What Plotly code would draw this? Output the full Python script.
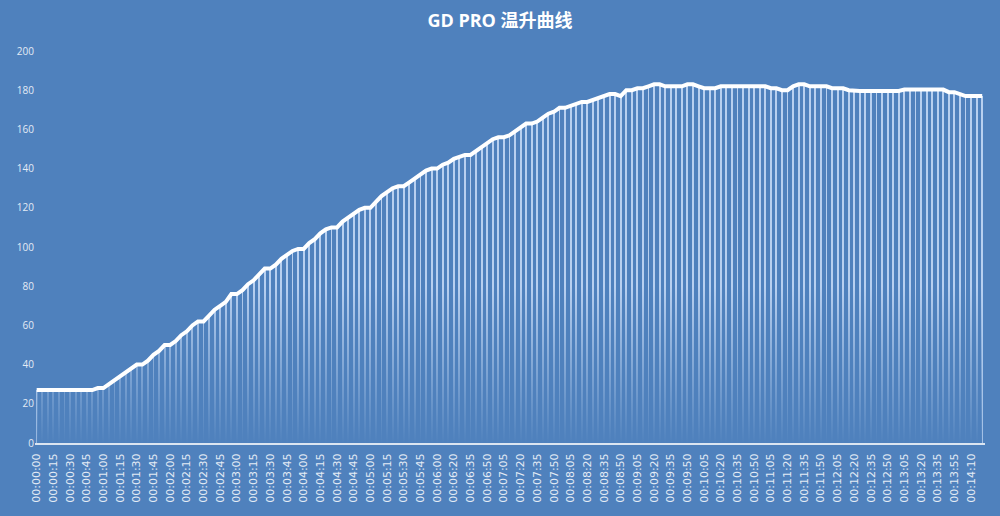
import plotly.graph_objects as go

# tempos de leitura (segundos); leituras a cada 5 s com duas falhas no registo
segundos = (list(range(0, 365, 5)) + [365, 370]
            + list(range(380, 820, 5)) + [820, 825]
            + list(range(835, 865, 5)))
categorias = [f"{s // 3600:02d}:{s % 3600 // 60:02d}:{s % 60:02d}" for s in segundos]

temperatura = [
    27, 27, 27, 27, 27, 27, 27, 27, 27, 27, 27, 28, 28, 30, 32, 34, 36, 38, 40, 40,
    42, 45, 47, 50, 50, 52, 55, 57, 60, 62, 62, 65, 68, 70, 72, 76, 76, 78, 81, 83,
    86, 89, 89, 91, 94, 96, 98, 99, 99, 102, 104, 107, 109, 110, 110, 113, 115, 117, 119, 120,
    120, 123, 126, 128, 130, 131, 131, 133, 135, 137, 139, 140, 140, 142, 143, 145, 146, 147, 147, 149,
    151, 153, 155, 156, 156, 157, 159, 161, 163, 163, 164, 166, 168, 169, 171, 171, 172, 173, 174, 174,
    175, 176, 177, 178, 178, 177, 180, 180, 181, 181, 182, 183, 183, 182, 182, 182, 182, 183, 183, 182,
    181, 181, 181, 182, 182, 182, 182, 182, 182, 182, 182, 182, 181, 181, 180, 180, 182, 183, 183, 182,
    182, 182, 182, 181, 181, 181, 180, 179.6, 179.6, 179.6, 179.6, 179.6, 179.6, 179.6, 179.6, 179.6, 180.3, 180.3,
    180.3, 180.3, 180.3, 180.3, 180.3, 180.3, 179, 179, 178, 177, 177, 177, 177,
]

rotulos_x = categorias[::3]
ticks_y = [0, 20, 40, 60, 80, 100, 120, 140, 160, 180, 200]

fundo = '#4f81bd'
texto = '#e3ebf5'

fig = go.Figure()

# linhas verticais de cada ponto até ao eixo
fig.add_trace(go.Bar(
    x=categorias, y=temperatura, width=0.34,
    marker=dict(color='rgba(210,228,252,0.8)', line=dict(width=0)),
    hoverinfo='skip', showlegend=False,
))

# esbatimento das linhas verticais junto ao eixo
fig.add_trace(go.Scatter(
    x=[categorias[0], categorias[-1]], y=[80, 80],
    mode='lines', line=dict(width=0), fill='tozeroy',
    fillgradient=dict(type='vertical', start=0, stop=80,
                      colorscale=[[0, 'rgba(79,129,189,1)'], [1, 'rgba(79,129,189,0)']]),
    hoverinfo='skip', showlegend=False,
))

# curva de temperatura
fig.add_trace(go.Scatter(
    x=categorias, y=temperatura, mode='lines',
    line=dict(color='white', width=4),
    name='温度', showlegend=False,
))

fig.update_layout(
    width=1000, height=516,
    paper_bgcolor=fundo, plot_bgcolor=fundo,
    margin=dict(l=35, r=15, t=51, b=73),
    title=dict(text='<b>GD PRO 温升曲线</b>', x=0.5, xanchor='center', y=0.96, yanchor='middle',
               font=dict(family='Open Sans, Noto Sans CJK SC', size=18, color='white')),
    bargap=0,
)

fig.update_xaxes(
    type='category', range=[-0.3, 170.5],
    tickmode='array', tickvals=rotulos_x, ticktext=rotulos_x,
    tickangle=-90, tickfont=dict(family='DejaVu Sans', size=11, color=texto),
    ticklabelstandoff=4,
    showline=True, linecolor='#dbe5f1', linewidth=2,
    showgrid=False, zeroline=False, ticks='', automargin=False,
)
fig.update_yaxes(
    range=[0, 200], tickmode='array', tickvals=ticks_y,
    tickfont=dict(family='Open Sans', size=10, color=texto),
    showgrid=False, zeroline=False, showline=False, ticks='', automargin=False,
)

# a página tem margem por omissão; retirá-la para a figura ocupar a janela
fig.write_html("out.html", config={'displayModeBar': False},
               post_script="document.body.style.margin='0';")
